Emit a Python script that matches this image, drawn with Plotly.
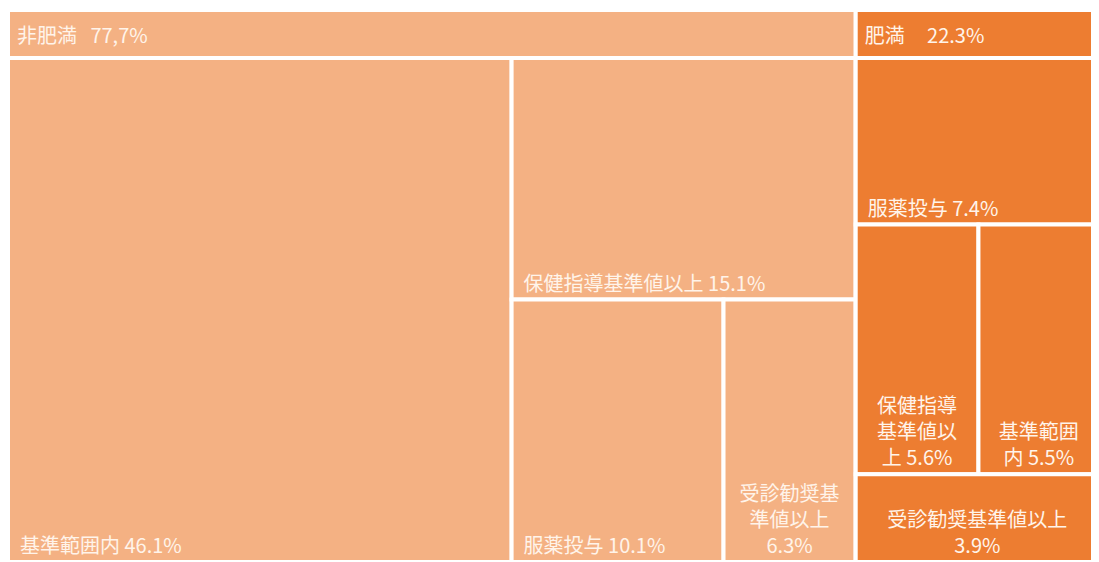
import plotly.graph_objects as go

# ---------------- Data ----------------
parent_names = ["非肥満", "肥満"]
parent_values = [77.7, 22.3]
parent_pct_text = ["77,7%", "22.3%"]
parent_colors = ["#F4B183", "#ED7D31"]

child_names = [
    ["基準範囲内", "保健指導基準値以上", "服薬投与", "受診勧奨基準値以上"],
    ["服薬投与", "保健指導基準値以上", "基準範囲内", "受診勧奨基準値以上"],
]
child_values = [
    [46.1, 15.1, 10.1, 6.3],
    [7.4, 5.6, 5.5, 3.9],
]
# label text, wrapped as in the reference
child_text = [
    ["基準範囲内 46.1%", "保健指導基準値以上 15.1%", "服薬投与 10.1%",
     "受診勧奨基<br>準値以上<br>6.3%"],
    ["服薬投与 7.4%", "保健指導<br>基準値以<br>上 5.6%", "基準範囲<br>内 5.5%",
     "受診勧奨基準値以上<br>3.9%"],
]

NB = "\u00a0"
header_gap = [NB * 3, NB * 5]
TEXT_COLOR = "#FFF4EA"
FONT = "Noto Sans CJK JP"
FONT_SIZE = 20
TRANSPARENT = "rgba(0,0,0,0)"
HEADER = 48

fig = go.Figure()
total = sum(parent_values)
x_start = 0.0
for gi, pname in enumerate(parent_names):
    x_end = x_start + parent_values[gi] / total
    xdom = [x_start, min(x_end, 1.0)]
    x_start = x_end

    header_text = NB * 2 + pname + header_gap[gi] + parent_pct_text[gi]
    ids = [pname] + [pname + "/" + c for c in child_names[gi]]
    labels = [header_text] + child_names[gi]
    parents = [""] + [pname] * len(child_names[gi])
    values = [0] + child_values[gi]

    single = [NB * 2 + t if "<br>" not in t else "" for t in child_text[gi]]
    multi = [t if "<br>" in t else "" for t in child_text[gi]]

    common = dict(
        ids=ids, labels=labels, parents=parents, values=values,
        branchvalues="remainder",
        texttemplate="%{text}", textinfo="text",
        tiling=dict(squarifyratio=1.25, pad=0),
        pathbar=dict(visible=False),
        hoverinfo="skip",
        sort=True,
        textfont=dict(family=FONT, size=FONT_SIZE, color=TEXT_COLOR),
    )

    # coloured tiles + single-line leaf labels (bottom left)
    fig.add_trace(go.Treemap(
        text=[""] + single,
        textposition="bottom left",
        domain=dict(x=xdom, y=[0, 1]),
        marker=dict(colors=[parent_colors[gi]] * len(ids),
                    line=dict(color="white", width=4),
                    pad=dict(t=HEADER, l=0, r=0, b=0)),
        **common,
    ))
    # wrapped leaf labels (centred lines)
    fig.add_trace(go.Treemap(
        text=[""] + multi,
        textposition="bottom center",
        domain=dict(x=xdom, y=[0, 1]),
        marker=dict(colors=[TRANSPARENT] * len(ids),
                    line=dict(color=TRANSPARENT, width=0),
                    pad=dict(t=HEADER, l=0, r=0, b=0)),
        **common,
    ))
    # group header label (slightly lowered to sit centred in the header band)
    fig.add_trace(go.Treemap(
        text=[header_text] + [""] * len(child_names[gi]),
        textposition="top left",
        domain=dict(x=xdom, y=[0, 0.987]),
        marker=dict(colors=[TRANSPARENT] * len(ids),
                    line=dict(color=TRANSPARENT, width=0),
                    pad=dict(t=HEADER, l=0, r=0, b=0)),
        **common,
    ))

fig.update_layout(
    width=1091, height=554,
    margin=dict(l=0, r=0, t=2, b=0),
    paper_bgcolor="white",
    showlegend=False,
)
fig.write_html("out.html")
